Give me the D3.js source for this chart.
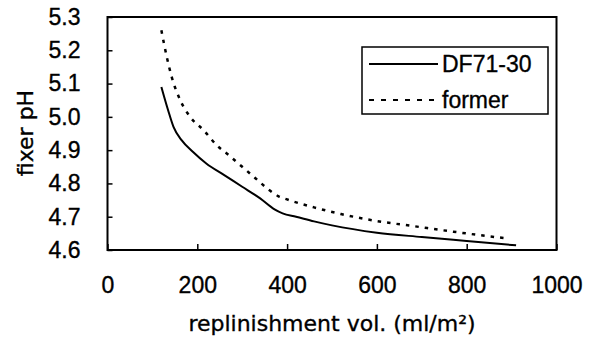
<!DOCTYPE html>
<html>
<head>
<meta charset="utf-8">
<script src="https://cdn.jsdelivr.net/npm/d3@7"></script>
<style>
  body { margin: 0; background: #fff; }
  svg { display: block; }
  text { stroke: #000; stroke-width: 0.35px; }
</style>
</head>
<body>
<svg width="597" height="337"></svg>
<script>
// replenishment volume (ml/m2) vs fixer pH
const dfX = [120, 135, 147, 165, 190, 220, 260, 300, 340, 372, 390, 420, 460, 500, 600, 700, 800, 910];
const dfY = [5.09, 5.02, 4.97, 4.93, 4.895, 4.86, 4.825, 4.79, 4.755, 4.722, 4.710, 4.700, 4.686, 4.674, 4.652, 4.639, 4.627, 4.614];

const formerX = [120, 132, 143, 162, 184, 214, 243, 270, 300, 330, 360, 380, 400, 460, 520, 600, 680, 770, 845, 895];
const formerY = [5.26, 5.18, 5.12, 5.05, 5.0, 4.96, 4.915, 4.885, 4.85, 4.815, 4.78, 4.762, 4.752, 4.728, 4.708, 4.687, 4.672, 4.655, 4.642, 4.634];

const xTicks = [0, 200, 400, 600, 800, 1000];
const yTicks = [4.6, 4.7, 4.8, 4.9, 5.0, 5.1, 5.2, 5.3];
const seriesNames = ['DF71-30', 'former'];

var svg = d3.select('svg');

const margin = {left: 107.5, right: 556.5, top: 17, bottom: 250};

var xscale = d3.scaleLinear().domain([0, 1000]).range([margin.left, margin.right]);
var yscale = d3.scaleLinear().domain([4.6, 5.3]).range([margin.bottom, margin.top]);

const tickFont = '"Liberation Sans", Arial, sans-serif';
const titleFont = '"DejaVu Sans", sans-serif';

// y axis, ticks pointing inward
var yAxis = svg.append('g')
    .attr('transform', `translate(${margin.left},0)`)
    .call(d3.axisLeft(yscale).tickValues(yTicks).tickFormat(d3.format('.1f'))
        .tickSizeInner(-5).tickSizeOuter(0).tickPadding(27));
yAxis.select('.domain').remove();
yAxis.selectAll('.tick line').attr('stroke', '#000').attr('stroke-width', 1.5);
yAxis.selectAll('.tick text')
    .attr('font-family', tickFont).attr('font-size', 23).attr('fill', '#000');

// x axis
var xAxis = svg.append('g')
    .attr('transform', `translate(0,${margin.bottom})`)
    .call(d3.axisBottom(xscale).tickValues(xTicks).tickFormat(d3.format('d'))
        .tickSizeInner(-6).tickSizeOuter(0).tickPadding(27));
xAxis.select('.domain').remove();
xAxis.selectAll('.tick line').attr('stroke', '#000').attr('stroke-width', 1.5);
xAxis.selectAll('.tick text')
    .attr('font-family', tickFont).attr('font-size', 23).attr('fill', '#000');

// plot frame
svg.append('rect')
    .attr('x', margin.left).attr('y', margin.top)
    .attr('width', margin.right - margin.left).attr('height', margin.bottom - margin.top)
    .attr('fill', 'none').attr('stroke', '#000').attr('stroke-width', 2);

var line = d3.line()
    .x(d => xscale(d[0]))
    .y(d => yscale(d[1]))
    .curve(d3.curveMonotoneX);

svg.append('path')
    .datum(formerX.map((x, i) => [x, formerY[i]]))
    .attr('d', line)
    .attr('fill', 'none').attr('stroke', '#000')
    .attr('stroke-width', 2.5).attr('stroke-dasharray', '3.5,6');

svg.append('path')
    .datum(dfX.map((x, i) => [x, dfY[i]]))
    .attr('d', line)
    .attr('fill', 'none').attr('stroke', '#000')
    .attr('stroke-width', 2);

// legend
var lg = svg.append('g');
lg.append('rect')
    .attr('x', 362).attr('y', 47).attr('width', 186).attr('height', 67)
    .attr('fill', '#fff').attr('stroke', '#000').attr('stroke-width', 1.5);
seriesNames.forEach((name, i) => {
    const y = i == 0 ? 64 : 100;
    lg.append('line')
        .attr('x1', 369).attr('x2', 438).attr('y1', y).attr('y2', y)
        .attr('stroke', '#000').attr('stroke-width', 2)
        .attr('stroke-dasharray', i == 0 ? null : '5,7');
    lg.append('text')
        .attr('x', 442).attr('y', y + 8)
        .attr('font-family', tickFont).attr('font-size', 23)
        .text(name);
});

// axis titles
svg.append('text')
    .attr('x', (margin.left + margin.right) / 2).attr('y', 331)
    .attr('text-anchor', 'middle')
    .attr('font-family', titleFont).attr('font-size', 22)
    .text('replinishment vol. (ml/m²)');

svg.append('text')
    .attr('transform', 'translate(33,133) rotate(-90)')
    .attr('text-anchor', 'middle')
    .attr('font-family', titleFont).attr('font-size', 22)
    .text('fixer pH');
</script>
</body>
</html>
